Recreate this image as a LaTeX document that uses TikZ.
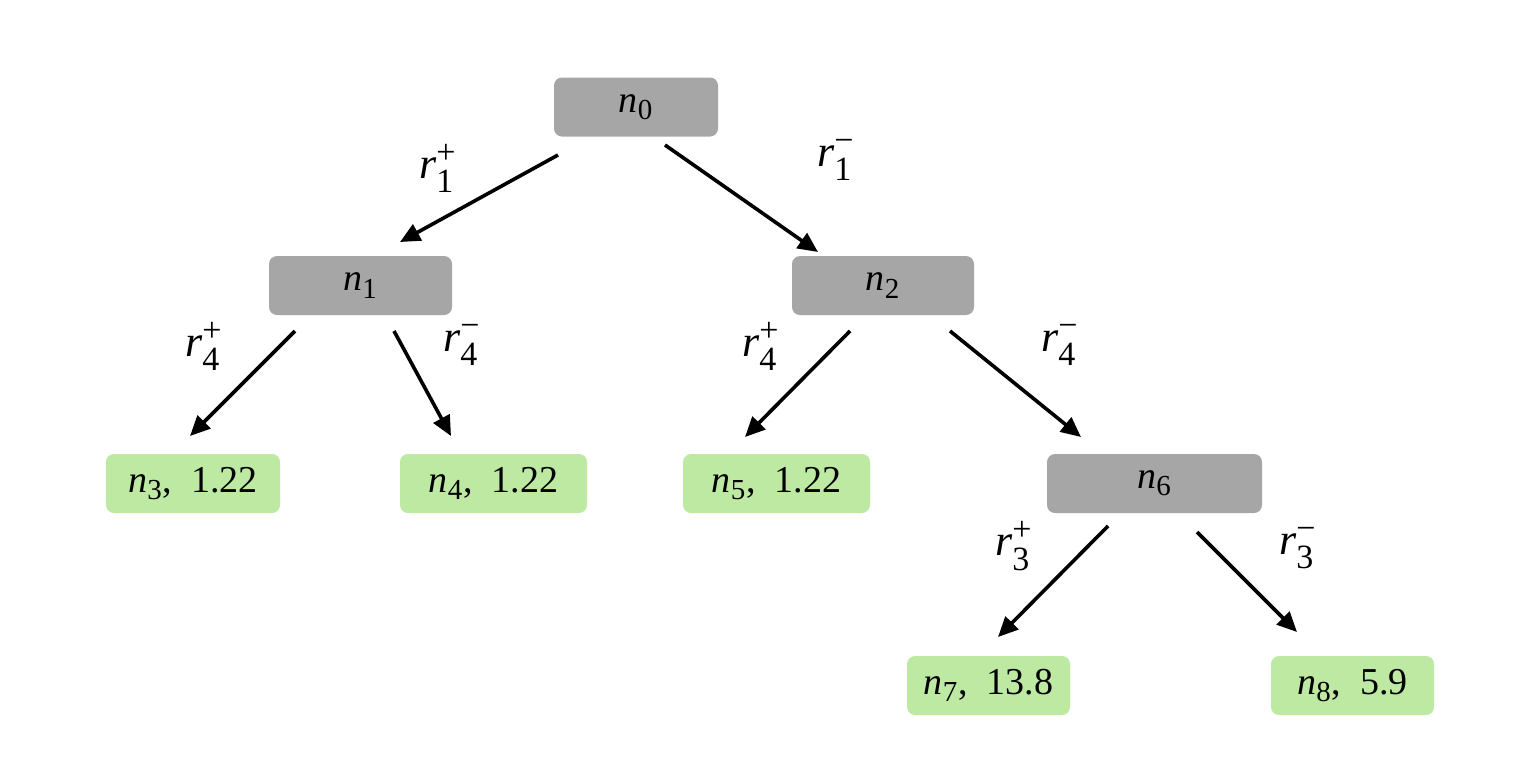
\documentclass[tikz,border=0pt]{standalone}
\usepackage{amsmath}
\usepackage{fontspec}
\newfontfamily\tnr{Liberation Serif}
\usetikzlibrary{arrows.meta,calc}
\definecolor{nodegray}{RGB}{166,166,166}
\definecolor{leafgreen}{RGB}{189,233,163}
\newcommand{\scr}[1]{\mbox{\fontsize{14.5pt}{15pt}\selectfont #1}}
\newcommand{\lscr}[1]{\mbox{\fontsize{17pt}{18pt}\selectfont #1}}
\newcommand{\nn}[1]{$\text{\itshape n}_{\scr{#1}}$}
\newcommand{\rr}[2]{$\text{\itshape r}^{\lscr{#2}}_{\lscr{#1}}$}
\begin{document}
\begin{tikzpicture}[x=0.5pt,y=-0.5pt,
  every node/.style={font=\tnr\fontsize{19pt}{22pt}\selectfont},
  inner/.style={fill=nodegray,rounded corners=4pt,minimum height=29.5pt,inner sep=0pt},
  leaf/.style={fill=leafgreen,rounded corners=4pt,minimum height=29.5pt,inner sep=0pt},
  edge/.style={line width=1.8pt,-{Triangle[length=10pt,width=9pt]}},
  lbl/.style={inner sep=0pt,font=\tnr\fontsize{22pt}{24pt}\selectfont}]
\useasboundingbox (0,0) rectangle (1534,782);
\node[inner,minimum width=82pt] (n0) at (636,107) {\nn{0}};
\node[inner,minimum width=91.5pt] (n1) at (360.5,285.5) {\nn{1}};
\node[inner,minimum width=91pt] (n2) at (883,285.5) {\nn{2}};
\node[leaf,minimum width=87pt] (n3) at (193,483.5) {\nn{3},\hspace{0.5em}1.22};
\node[leaf,minimum width=93.5pt] (n4) at (493.5,483.5) {\nn{4},\hspace{0.5em}1.22};
\node[leaf,minimum width=93.5pt] (n5) at (776.5,483.5) {\nn{5},\hspace{0.5em}1.22};
\node[inner,minimum width=107.5pt] (n6) at (1154.5,483.5) {\nn{6}};
\node[leaf,minimum width=81.5pt] (n7) at (988.5,685.5) {\nn{7},\hspace{0.5em}13.8};
\node[leaf,minimum width=81.5pt] (n8) at (1352.5,685.5) {\nn{8},\hspace{0.5em}5.9};
% connector end points
\coordinate (a0) at (558,155); \coordinate (b0) at (400,242);
\coordinate (a1) at (665,145); \coordinate (b1) at (818,252);
\coordinate (a2) at (295,331); \coordinate (b2) at (190,436);
\coordinate (a3) at (394,331); \coordinate (b3) at (451,436);
\coordinate (a4) at (850,331); \coordinate (b4) at (745,437);
\coordinate (a5) at (950,331); \coordinate (b5) at (1081,437);
\coordinate (a6) at (1108,526); \coordinate (b6) at (998,637);
\coordinate (a7) at (1197,532); \coordinate (b7) at (1297,632);
\draw[edge] (a0) -- (b0);
\draw[edge] (a1) -- (b1);
\draw[edge] (a2) -- (b2);
\draw[edge] (a3) -- (b3);
\draw[edge] (a4) -- (b4);
\draw[edge] (a5) -- (b5);
\draw[edge] (a6) -- (b6);
\draw[edge] (a7) -- (b7);
\node[lbl] (l0) at (438,168) {\rr{1}{+}};
\node[lbl] (l1) at (836,160) {\rr{1}{−}};
\node[lbl] (l2) at (204,346) {\rr{4}{+}};
\node[lbl] (l3) at (462,345) {\rr{4}{−}};
\node[lbl] (l4) at (761,346) {\rr{4}{+}};
\node[lbl] (l5) at (1060,345) {\rr{4}{−}};
\node[lbl] (l6) at (1014,546) {\rr{3}{+}};
\node[lbl] (l7) at (1298,548) {\rr{3}{−}};
\end{tikzpicture}
\end{document}
